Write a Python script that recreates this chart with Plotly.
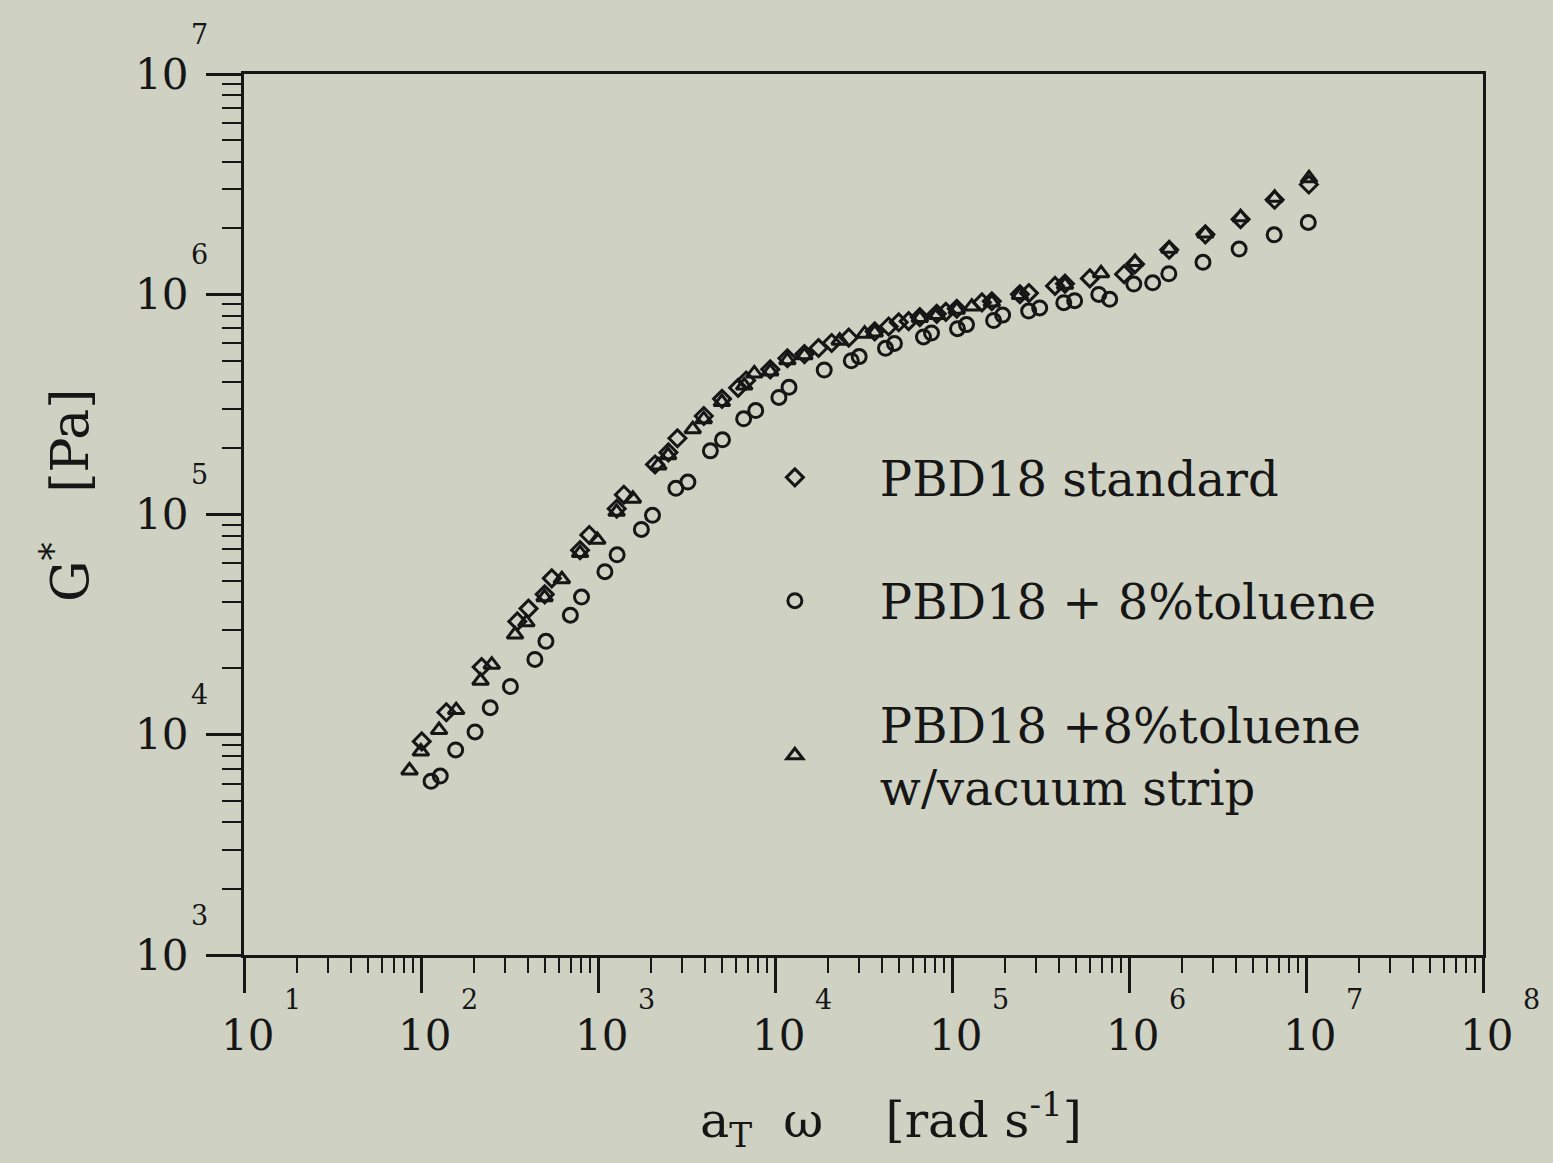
import plotly.graph_objects as go

# ---- data (a_T*omega [rad/s], G* [Pa]) ----
std_w = [101, 139, 220, 350, 405, 500, 548, 792, 893, 1276, 1400, 2100, 2500, 2810,
         3960, 5020, 6190, 6870, 9400, 11750, 14660, 17620, 20900, 26100, 36600,
         43900, 50000, 56900, 65800, 82000, 92300, 106400, 147600, 167900, 242000,
         272000, 382000, 435000, 601000, 938000, 1081000, 1687000, 2700000, 4270000,
         6650000, 10380000]
std_g = [9330, 12650, 20300, 32700, 37400, 43400, 51300, 68900, 80700, 106200,
         123000, 168700, 191400, 221800, 280000, 335000, 376000, 406000, 456000,
         512000, 535000, 570000, 601000, 635000, 678000, 714000, 746000, 755000,
         787000, 815000, 832000, 859000, 918000, 929000, 1000000, 1012000, 1091000,
         1117000, 1180000, 1233000, 1371000, 1592000, 1871000, 2193000, 2685000,
         3150000]

tol_w = [114, 128.5, 157, 202, 246, 320, 440, 508, 698, 807, 1094, 1282, 1758, 2032,
         2754, 3220, 4315, 5050, 6650, 7780, 10520, 12000, 18970, 26980, 29900,
         42100, 47300, 69000, 76600, 107400, 120800, 171800, 193200, 271000, 313000,
         428000, 493000, 675000, 778000, 1064000, 1361000, 1679000, 2618000,
         4190000, 6610000, 10300000]
tol_g = [6150, 6490, 8530, 10300, 13270, 16560, 21980, 26550, 34900, 42200, 55000,
         65600, 85500, 99100, 131500, 140300, 194500, 218300, 272000, 296500,
         340000, 378000, 453000, 499000, 521000, 568000, 598000, 640000, 667000,
         698000, 728000, 760000, 804000, 839000, 867000, 916000, 935000, 998000,
         948000, 1112000, 1127000, 1239000, 1396000, 1603000, 1862000, 2118000]

vac_w = [86.1, 99.8, 126.5, 158, 217, 251, 340, 394, 499, 625, 792, 991, 1274, 1574,
         2190, 2490, 3430, 3960, 5010, 6700, 7640, 9400, 11750, 14660, 23200, 32100,
         36600, 65800, 82000, 106400, 129400, 167900, 242000, 435000, 695000,
         1081000, 1687000, 2700000, 4270000, 6650000, 10400000]
vac_g = [6890, 8390, 10500, 12940, 17580, 20800, 28500, 32400, 42100, 50800, 66800,
         76700, 102800, 118000, 167100, 185800, 244000, 271000, 324000, 385000,
         437000, 446000, 501000, 528000, 615000, 662000, 670000, 780000, 805000,
         851000, 879000, 918000, 991000, 1104000, 1245000, 1400000, 1611000,
         1888000, 2239000, 2742000, 3360000]

series_names = ["PBD18 standard", "PBD18 + 8%toluene",
                "PBD18 +8%toluene<br>w/vacuum strip"]

x_tick_exps = [1, 2, 3, 4, 5, 6, 7, 8]
y_tick_exps = [3, 4, 5, 6, 7]

# ---- styling ----
BG = "rgb(207,209,195)"
INK = "#161616"
FONT = "DejaVu Serif"

fig = go.Figure()
fig.add_trace(go.Scatter(x=std_w, y=std_g, mode="markers", name=series_names[0],
                         legendgroup="a",
                         marker=dict(symbol="diamond-open", size=13, color=INK,
                                     line=dict(width=3, color=INK))))
fig.add_trace(go.Scatter(x=tol_w, y=tol_g, mode="markers", name=series_names[1],
                         legendgroup="b",
                         marker=dict(symbol="circle-open", size=14, color=INK,
                                     line=dict(width=3, color=INK))))
fig.add_trace(go.Scatter(x=vac_w, y=vac_g, mode="markers", name=series_names[2],
                         legendgroup="c",
                         marker=dict(symbol="triangle-up-open", size=14, color=INK,
                                     line=dict(width=3, color=INK))))

axis_common = dict(type="log", showgrid=False, zeroline=False, showline=True,
                   linecolor=INK, linewidth=2.5, mirror=True, ticks="outside",
                   tickcolor=INK, tickwidth=2.5, ticklen=35, dtick=1,
                   showticklabels=False)

fig.update_xaxes(range=[1, 8],
                 minor=dict(ticks="outside", ticklen=15, tickwidth=2.2,
                            tickcolor=INK, dtick="D1"),
                 **axis_common)
fig.update_yaxes(range=[3, 7],
                 minor=dict(ticks="outside", ticklen=19, tickwidth=2.2,
                            tickcolor=INK, dtick="D1"),
                 **axis_common)

ann = []
for e in x_tick_exps:
    ann.append(dict(x=e, y=0, xref="x", yref="paper", text="10", showarrow=False,
                    xanchor="center", yanchor="middle", xshift=3, yshift=-80,
                    font=dict(family=FONT, size=42, color=INK)))
    ann.append(dict(x=e, y=0, xref="x", yref="paper", text=str(e), showarrow=False,
                    xanchor="center", yanchor="middle", xshift=48, yshift=-44,
                    font=dict(family=FONT, size=27, color=INK)))
for e in y_tick_exps:
    ann.append(dict(x=0, y=e, xref="paper", yref="y", text="10", showarrow=False,
                    xanchor="right", yanchor="middle", xshift=-54,
                    font=dict(family=FONT, size=42, color=INK)))
    ann.append(dict(x=0, y=e, xref="paper", yref="y", text=str(e), showarrow=False,
                    xanchor="center", yanchor="middle", xshift=-45, yshift=40,
                    font=dict(family=FONT, size=27, color=INK)))

ann.append(dict(x=0, y=0.522, xref="paper", yref="paper",
                text="G<sup>*</sup>   [Pa]", textangle=-90, showarrow=False,
                xanchor="center", yanchor="middle", xshift=-178,
                font=dict(family=FONT, size=52, color=INK)))
ann.append(dict(x=0.522, y=0, xref="paper", yref="paper",
                text="a<sub>T</sub>  \u03c9    [rad s<sup>-1</sup>]", showarrow=False,
                xanchor="center", yanchor="middle", yshift=-164,
                font=dict(family=FONT, size=49, color=INK)))

fig.update_layout(
    width=1553, height=1163,
    margin=dict(l=244, r=70, t=74, b=208),
    paper_bgcolor=BG, plot_bgcolor=BG,
    annotations=ann,
    showlegend=True,
    legend=dict(x=0.376, y=0.585, xanchor="left", yanchor="top",
                bgcolor="rgba(0,0,0,0)", borderwidth=0,
                font=dict(family=FONT, size=48, color=INK),
                itemwidth=160, tracegroupgap=58, itemsizing="trace"),
)

fig.write_html("out.html")
